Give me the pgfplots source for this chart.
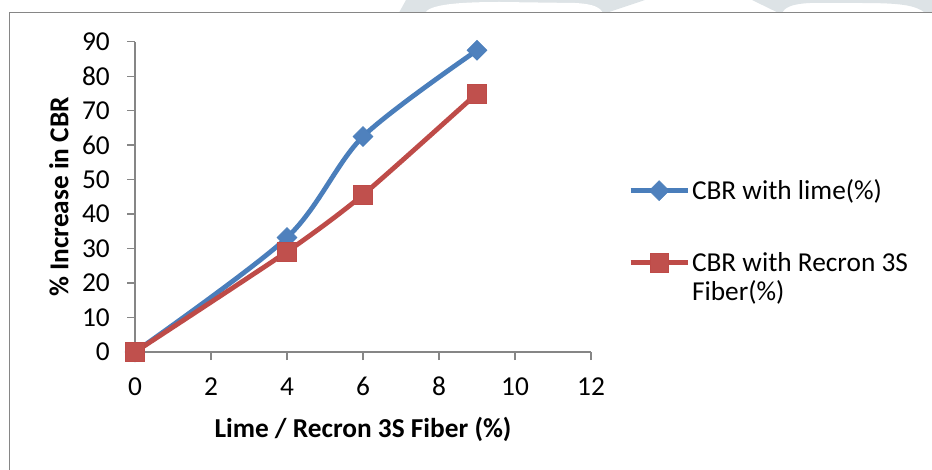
\documentclass[border=0pt]{standalone}
\usepackage{fontspec}
\setmainfont{Carlito}
\usepackage{pgfplots}
\pgfplotsset{compat=1.18}
\definecolor{cblue}{HTML}{4A7EBB}
\definecolor{cblue2}{HTML}{4F81BD}
\definecolor{cred}{HTML}{BE4B48}
\definecolor{cred2}{HTML}{C0504D}
\definecolor{agray}{HTML}{868686}
\definecolor{wm}{HTML}{DDE3E6}
\begin{document}
\begin{tikzpicture}
\begin{scope}[x=0.75pt,y=-0.75pt]
\useasboundingbox (0,0) rectangle (932,470);
% faint watermark above the chart frame
\fill[wm] (399,12.7) -- (406,0) -- (645,0) -- (607,12.7) -- cycle;
\fill[white] (425,12.7) .. controls (430,5) and (455,2) .. (500,2) -- (575,3) .. controls (595,4) and (600,8) .. (603,12.7) -- cycle;
\fill[wm] (752,0) -- (932,0) -- (932,12.7) -- (925,12.7) .. controls (915,5) and (900,3) .. (860,3) -- (810,3) .. controls (790,4) and (785,8) .. (782,12.7) -- (778,12.7) -- cycle;
% chart frame
\draw[agray, line width=1.1pt] (9.5,470) -- (9.5,12.7) -- (932,12.7);
\end{scope}
\begin{axis}[
  at={(101.25pt,-264pt)}, anchor=south west,
  scale only axis, width=342pt, height=232.7pt,
  xmin=0, xmax=12, ymin=0, ymax=90,
  clip=false,
  axis lines*=left,
  axis line style={agray, line width=1pt},
  xtick={0,2,...,12}, ytick={0,10,...,90},
  tick align=outside, major tick length=6pt,
  tick style={agray, line width=1pt},
  /pgf/number format/assume math mode=true,
  ticklabel style={font=\fontsize{20.5}{24}\selectfont, text=black},
  xticklabel style={anchor=base, inner sep=0pt, yshift=-26.25pt},
  yticklabel style={anchor=east, inner sep=0pt, xshift=-12.75pt},
  xlabel={\bfseries Lime / Recron 3S Fiber (\%)},
  ylabel={\bfseries \% Increase in CBR},
  label style={font=\fontsize{20.5}{24}\selectfont},
  xlabel style={at={(axis description cs:0.5,-0.248)}, anchor=center},
  ylabel style={at={(axis description cs:-0.1667,0.5)}, anchor=center},
  legend image code/.code={\draw[#1,mark repeat=2,mark phase=2] plot coordinates {(0pt,0pt)(21.4pt,0pt)(42.75pt,0pt)};},
  legend cell align=left,
  legend style={at={(axis description cs:1.081,0.565)}, anchor=north west,
    draw=none, fill=none, inner sep=0pt, row sep=34pt,
    font=\fontsize{20.5}{24}\selectfont,
    nodes={inner xsep=1.5pt},
    /tikz/every even column/.append style={column sep=0pt}},
]
\addplot[cblue, line width=3.6pt, smooth, tension=0.5, mark=square*, mark size=5.3pt,
  mark options={rotate=45, solid, line width=0.4pt, draw=cblue, fill=cblue2}]
  coordinates {(0,0) (4,33.2) (6,62.5) (9,87.5)};
\addlegendentry{CBR with lime(\%)}
\addplot[cred, line width=3.6pt, smooth, tension=0.4, mark=square*, mark size=7pt,
  mark options={solid, line width=0.4pt, draw=cred, fill=cred2}]
  coordinates {(0,0) (4,29.1) (6,45.6) (9,75)};
\addlegendentry{\makebox[0pt][l]{\raisebox{-22pt}[0pt][0pt]{Fiber(\%)}}CBR with Recron 3S}
\end{axis}
\end{tikzpicture}
\end{document}
